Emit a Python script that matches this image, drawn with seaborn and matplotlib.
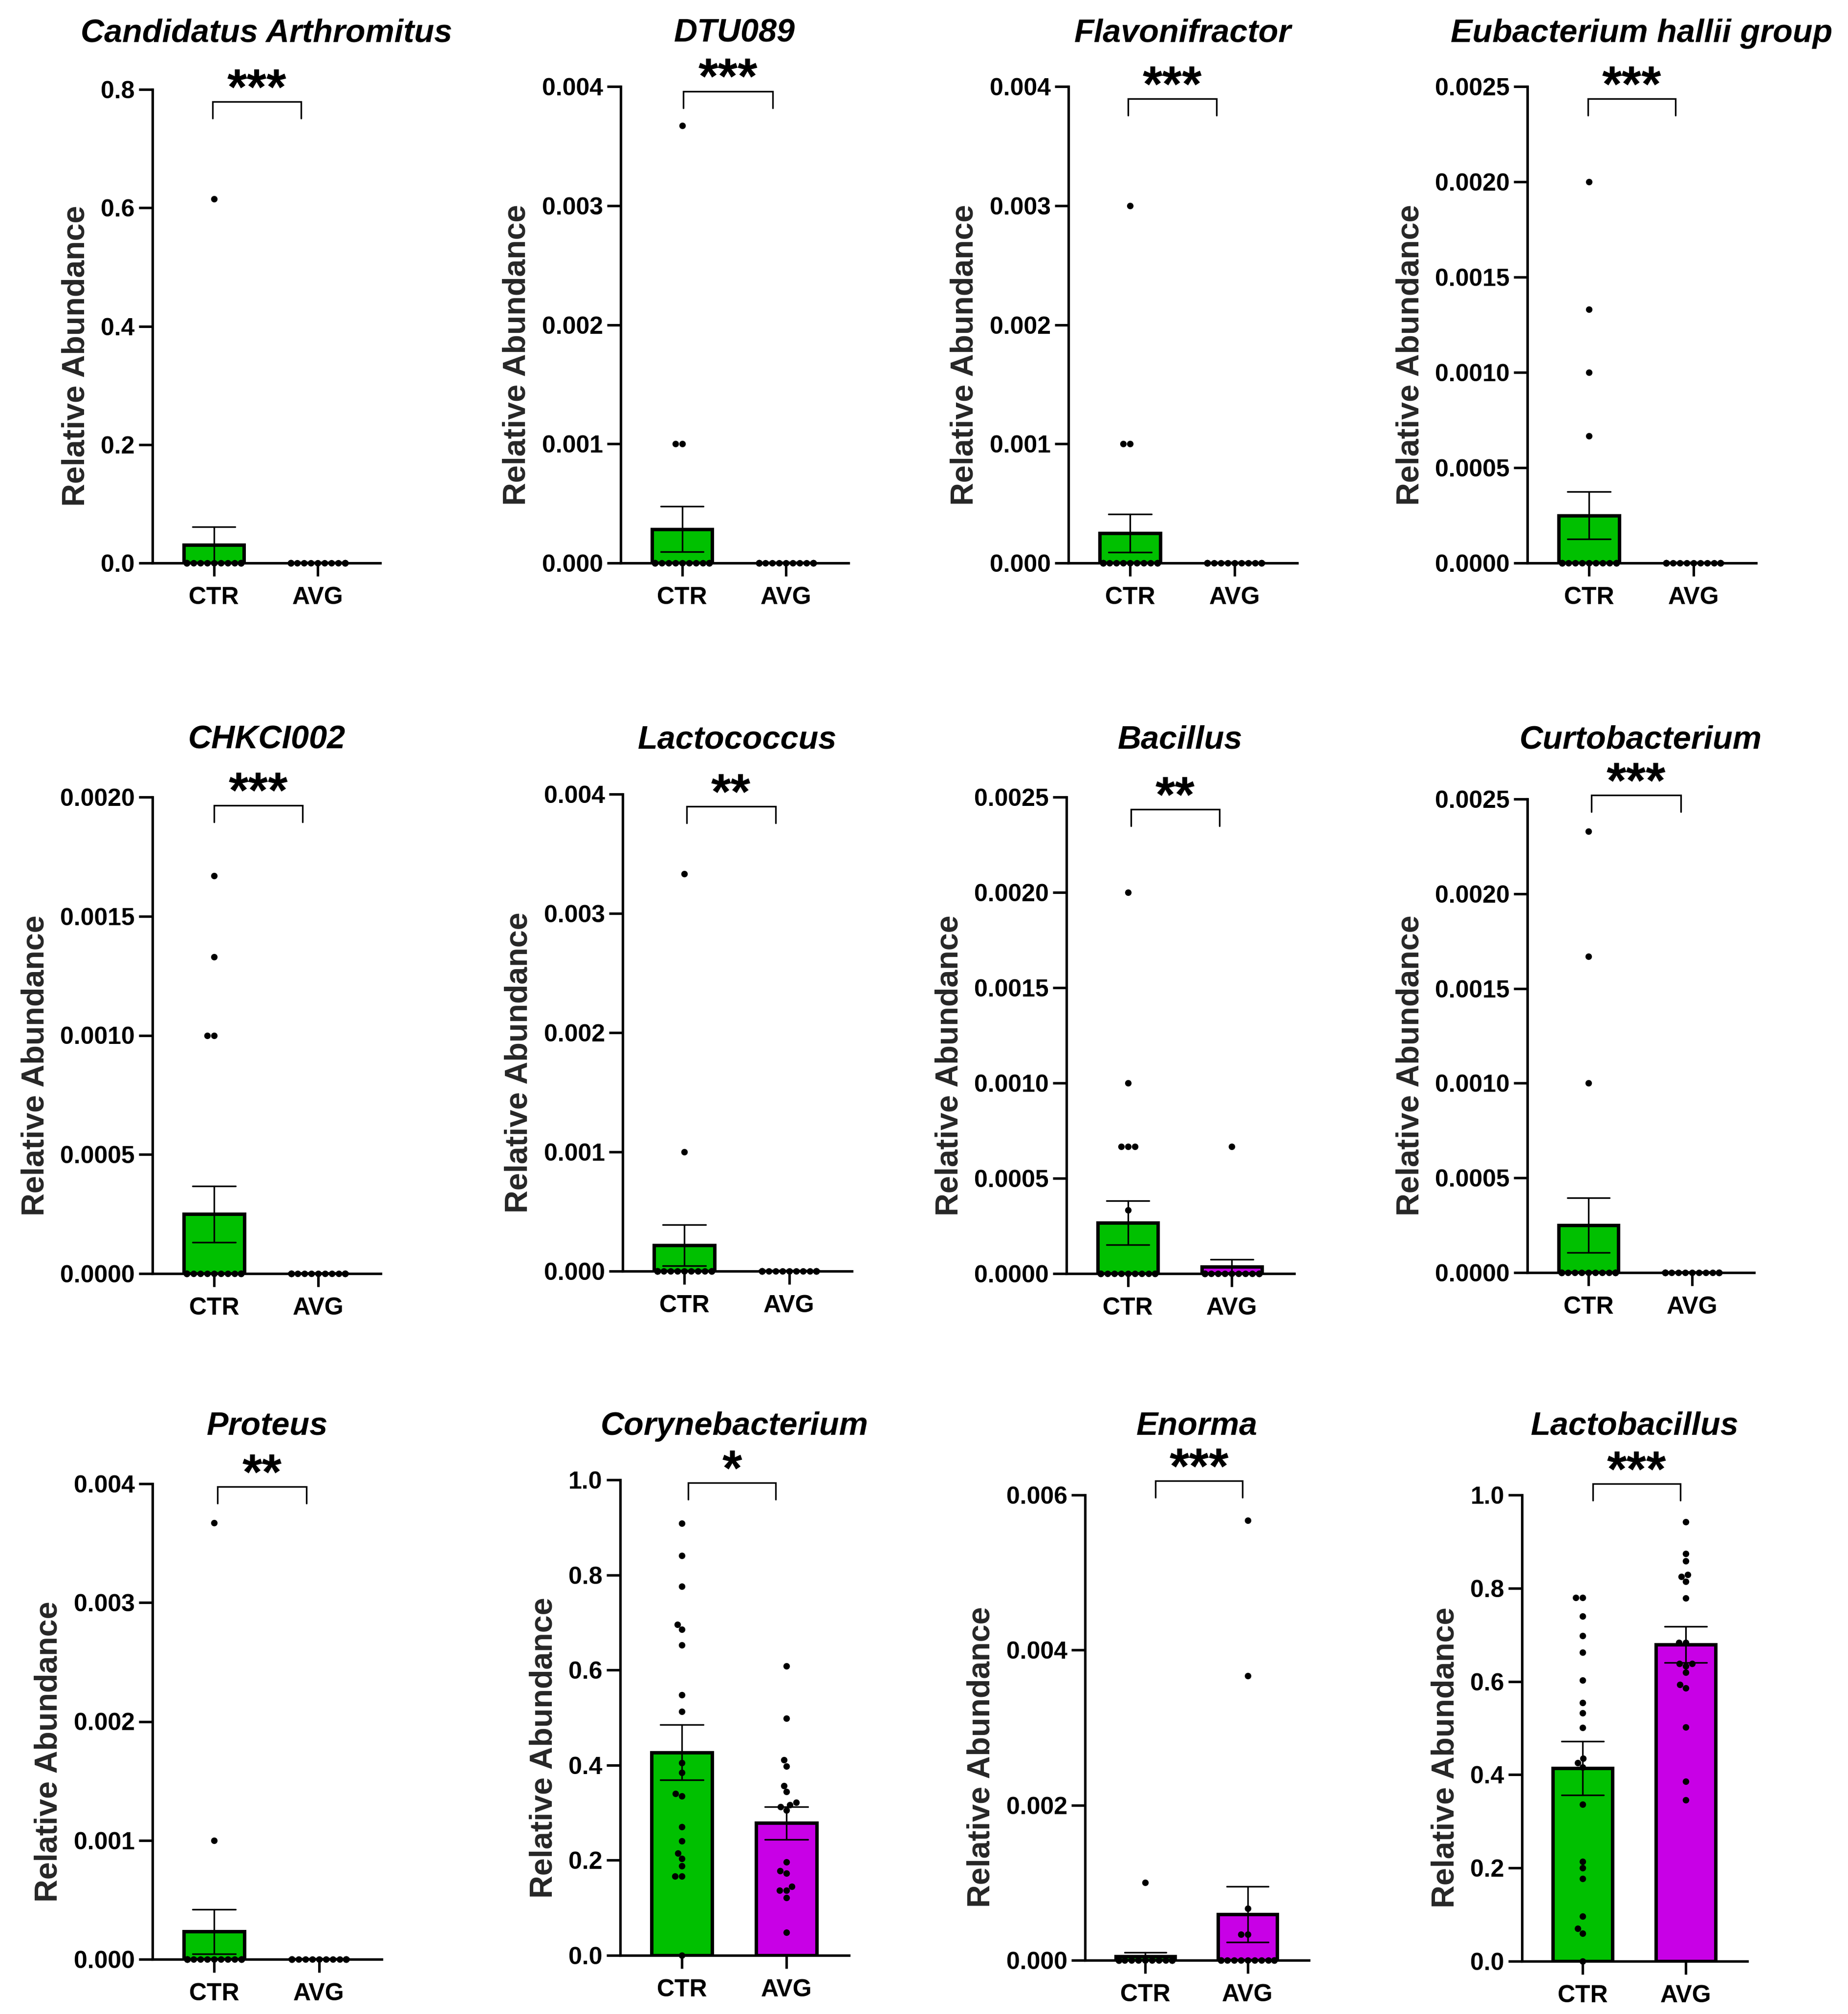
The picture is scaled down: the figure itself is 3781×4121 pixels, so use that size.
import warnings
warnings.filterwarnings("ignore")
import numpy as np
import pandas as pd
import matplotlib
matplotlib.use("Agg")
import matplotlib.pyplot as plt
import matplotlib.transforms as mtransforms
import seaborn as sns

# ---------------- data ----------------
GROUPS = ["CTR", "AVG"]

titles = ["Candidatus Arthromitus", "DTU089", "Flavonifractor", "Eubacterium hallii group",
          "CHKCI002", "Lactococcus", "Bacillus", "Curtobacterium",
          "Proteus", "Corynebacterium", "Enorma", "Lactobacillus"]

stars = ["***", "***", "***", "***", "***", "**", "**", "***", "**", "*", "***", "***"]

ytick_labels = [
    ["0.0", "0.2", "0.4", "0.6", "0.8"],
    ["0.000", "0.001", "0.002", "0.003", "0.004"],
    ["0.000", "0.001", "0.002", "0.003", "0.004"],
    ["0.0000", "0.0005", "0.0010", "0.0015", "0.0020", "0.0025"],
    ["0.0000", "0.0005", "0.0010", "0.0015", "0.0020"],
    ["0.000", "0.001", "0.002", "0.003", "0.004"],
    ["0.0000", "0.0005", "0.0010", "0.0015", "0.0020", "0.0025"],
    ["0.0000", "0.0005", "0.0010", "0.0015", "0.0020", "0.0025"],
    ["0.000", "0.001", "0.002", "0.003", "0.004"],
    ["0.0", "0.2", "0.4", "0.6", "0.8", "1.0"],
    ["0.000", "0.002", "0.004", "0.006"],
    ["0.0", "0.2", "0.4", "0.6", "0.8", "1.0"],
]

ctr_candidatus = [0.615, 0, 0, 0, 0, 0, 0, 0, 0, 0, 0, 0, 0, 0, 0, 0, 0, 0, 0, 0]
avg_candidatus = [0, 0, 0, 0, 0, 0, 0, 0, 0, 0, 0, 0, 0, 0, 0, 0, 0, 0]

ctr_dtu089 = [0.00367, 0.001, 0.001, 0, 0, 0, 0, 0, 0, 0, 0, 0, 0, 0, 0, 0, 0, 0, 0, 0]
avg_dtu089 = [0, 0, 0, 0, 0, 0, 0, 0, 0, 0, 0, 0, 0, 0, 0, 0, 0, 0]

ctr_flavonifractor = [0.003, 0.001, 0.001, 0, 0, 0, 0, 0, 0, 0, 0, 0, 0, 0, 0, 0, 0, 0, 0, 0]
avg_flavonifractor = [0, 0, 0, 0, 0, 0, 0, 0, 0, 0, 0, 0, 0, 0, 0, 0, 0, 0]

ctr_eubacterium = [0.002, 0.00133, 0.001, 0.000667, 0, 0, 0, 0, 0, 0, 0, 0, 0, 0, 0, 0, 0, 0, 0, 0]
avg_eubacterium = [0, 0, 0, 0, 0, 0, 0, 0, 0, 0, 0, 0, 0, 0, 0, 0, 0, 0]

ctr_chkci002 = [0.00167, 0.00133, 0.001, 0.001, 0, 0, 0, 0, 0, 0, 0, 0, 0, 0, 0, 0, 0, 0, 0, 0]
avg_chkci002 = [0, 0, 0, 0, 0, 0, 0, 0, 0, 0, 0, 0, 0, 0, 0, 0, 0, 0]

ctr_lactococcus = [0.00333, 0.001, 0, 0, 0, 0, 0, 0, 0, 0, 0, 0, 0, 0, 0, 0, 0, 0, 0, 0]
avg_lactococcus = [0, 0, 0, 0, 0, 0, 0, 0, 0, 0, 0, 0, 0, 0, 0, 0, 0, 0]

ctr_bacillus = [0.002, 0.001, 0.000667, 0.000667, 0.000667, 0.000333, 0, 0, 0, 0,
                0, 0, 0, 0, 0, 0, 0, 0, 0, 0]
avg_bacillus = [0.000667, 0, 0, 0, 0, 0, 0, 0, 0, 0, 0, 0, 0, 0, 0, 0, 0, 0]

ctr_curtobacterium = [0.00233, 0.00167, 0.001, 0, 0, 0, 0, 0, 0, 0, 0, 0, 0, 0, 0, 0, 0, 0, 0, 0]
avg_curtobacterium = [0, 0, 0, 0, 0, 0, 0, 0, 0, 0, 0, 0, 0, 0, 0, 0, 0, 0]

ctr_proteus = [0.00367, 0.001, 0, 0, 0, 0, 0, 0, 0, 0, 0, 0, 0, 0, 0, 0, 0, 0, 0, 0]
avg_proteus = [0, 0, 0, 0, 0, 0, 0, 0, 0, 0, 0, 0, 0, 0, 0, 0, 0, 0]

ctr_corynebacterium = [0.909, 0.841, 0.776, 0.696, 0.686, 0.653, 0.548, 0.513, 0.405, 0.384,
                       0.340, 0.335, 0.270, 0.241, 0.215, 0.204, 0.188, 0.167, 0.167, 0.0]
avg_corynebacterium = [0.608, 0.498, 0.411, 0.398, 0.357, 0.344, 0.322, 0.317, 0.312, 0.305,
                       0.196, 0.178, 0.173, 0.145, 0.137, 0.137, 0.121, 0.048]

ctr_enorma = [0.001, 0, 0, 0, 0, 0, 0, 0, 0, 0, 0, 0, 0, 0, 0, 0, 0, 0, 0, 0]
avg_enorma = [0.00567, 0.00367, 0.000667, 0.000333, 0.000333, 0, 0, 0, 0, 0, 0, 0, 0, 0, 0, 0, 0, 0]

ctr_lactobacillus = [0.780, 0.780, 0.740, 0.698, 0.662, 0.603, 0.555, 0.532, 0.501, 0.435,
                     0.426, 0.416, 0.337, 0.214, 0.200, 0.177, 0.096, 0.070, 0.060, 0.0]
avg_lactobacillus = [0.942, 0.874, 0.858, 0.829, 0.825, 0.814, 0.779, 0.683, 0.683, 0.638,
                     0.638, 0.633, 0.619, 0.593, 0.586, 0.502, 0.386, 0.346]

ctr_values = [ctr_candidatus, ctr_dtu089, ctr_flavonifractor, ctr_eubacterium,
              ctr_chkci002, ctr_lactococcus, ctr_bacillus, ctr_curtobacterium,
              ctr_proteus, ctr_corynebacterium, ctr_enorma, ctr_lactobacillus]
avg_values = [avg_candidatus, avg_dtu089, avg_flavonifractor, avg_eubacterium,
              avg_chkci002, avg_lactococcus, avg_bacillus, avg_curtobacterium,
              avg_proteus, avg_corynebacterium, avg_enorma, avg_lactobacillus]

# ---------------- layout / style ----------------
W, H, DPI = 3781, 4121, 300
PALETTE = {"CTR": "#00C000", "AVG": "#C800E6"}
GROUP_POS = {"CTR": 0.0, "AVG": 1.0}
# an empty (NaN) extra x slot: makes seaborn's native swarm width 0.8*0.65 of the group spacing
SWARM_SLOT = 1.65

# axes boxes in pixels: (left spine x, right end x, top y, zero y)
AX_PX = [(312, 778, 183, 1152), (1270, 1736, 177, 1152), (2186, 2654, 177, 1152), (3125, 3593, 177, 1152),
         (312, 779, 1631, 2606), (1274, 1743, 1625, 2601), (2182, 2648, 1631, 2606), (3125, 3589, 1635, 2604),
         (312, 781, 3036, 4009), (1269, 1737, 3028, 4001), (2220, 2678, 3059, 4011), (3114, 3575, 3059, 4013)]
# bracket: (top in axes fraction, x start, x end in category units)
BRACKET = [(0.974, -0.01, 0.84), (0.990, 0.01, 0.87), (0.974, -0.02, 0.83), (0.974, -0.01, 0.83),
           (0.983, 0.00, 0.85), (0.974, 0.02, 0.87), (0.974, 0.03, 0.88), (1.008, 0.03, 0.89),
           (0.994, 0.03, 0.88), (0.994, 0.06, 0.90), (1.030, 0.10, 0.95), (1.024, 0.10, 0.95)]
TITLE_BASE_PX = [86, 86, 86, 86, 1532, 1532, 1532, 1532, 2936, 2936, 2936, 2936]

sns.set_theme(style="ticks")
plt.rcParams["font.family"] = ["Liberation Sans", "DejaVu Sans"]
plt.rcParams["font.weight"] = "bold"

fig = plt.figure(figsize=(W / DPI, H / DPI), dpi=DPI)
fig.patch.set_facecolor("white")

LW_AX = 1.25
for i in range(12):
    l, r, t, z = AX_PX[i]
    ax = fig.add_axes([l / W, 1 - z / H, (r - l) / W, (z - t) / H])
    ax.set_facecolor("white")
    df = pd.DataFrame({
        "group": ["CTR"] * len(ctr_values[i]) + ["AVG"] * len(avg_values[i]),
        "value": list(ctr_values[i]) + list(avg_values[i]),
    })
    sns.barplot(data=df, x="group", y="value", order=GROUPS, hue="group", hue_order=GROUPS,
                palette=PALETTE, errorbar="se", capsize=0.41, width=0.58,
                edgecolor="black", linewidth=1.7, saturation=1,
                err_kws={"color": "black", "linewidth": 0.8}, legend=False, ax=ax)

    sw = pd.DataFrame({
        "pos": [GROUP_POS[g] for g in df["group"]] + [SWARM_SLOT],
        "value": list(df["value"]) + [np.nan],
    })
    sns.swarmplot(data=sw, x="pos", y="value", native_scale=True, orient="x", color="black",
                  size=3.2, ax=ax, clip_on=False, zorder=3)

    labels = ytick_labels[i]
    ticks = [float(s) for s in labels]
    ax.set_ylim(0, ticks[-1])
    ax.set_yticks(ticks)
    ax.set_yticklabels(labels)
    ax.set_xticks([GROUP_POS[g] for g in GROUPS])
    ax.set_xticklabels(GROUPS)
    ax.set_xlim(-0.59, 1.6)
    ax.set_xlabel("")
    ax.set_ylabel("Relative Abundance", fontsize=15.5, fontweight="bold", labelpad=5, y=0.437)
    for s in ["top", "right"]:
        ax.spines[s].set_visible(False)
    for s in ["left", "bottom"]:
        ax.spines[s].set_linewidth(LW_AX)
        ax.spines[s].set_color("black")
    ax.tick_params(axis="y", direction="out", length=6.7, width=LW_AX, labelsize=12, pad=2, colors="black")
    ax.tick_params(axis="x", direction="out", length=6.5, width=LW_AX, labelsize=12, pad=5, colors="black")
    for lab in ax.get_xticklabels() + ax.get_yticklabels():
        lab.set_fontweight("bold")

    # significance bracket
    trans = mtransforms.blended_transform_factory(ax.transData, ax.transAxes)
    yt, x0, x1 = BRACKET[i]
    ax_h = z - t
    yb = yt - 34 / ax_h
    ax.plot([x0, x0, x1, x1], [yb, yt, yt, yb], transform=trans, color="black",
            lw=0.8, clip_on=False, solid_joinstyle="miter")
    ax.text((x0 + x1) / 2, yt - 5 / ax_h, stars[i], transform=trans, ha="center",
            va="baseline", fontsize=25, fontweight="bold", color="black")

    # title
    fig.text((l + r) / 2 / W, 1 - TITLE_BASE_PX[i] / H, titles[i], ha="center", va="baseline",
             fontsize=16, fontweight="bold", fontstyle="italic", color="black")

fig.savefig("out.png", dpi=DPI, facecolor="white")
